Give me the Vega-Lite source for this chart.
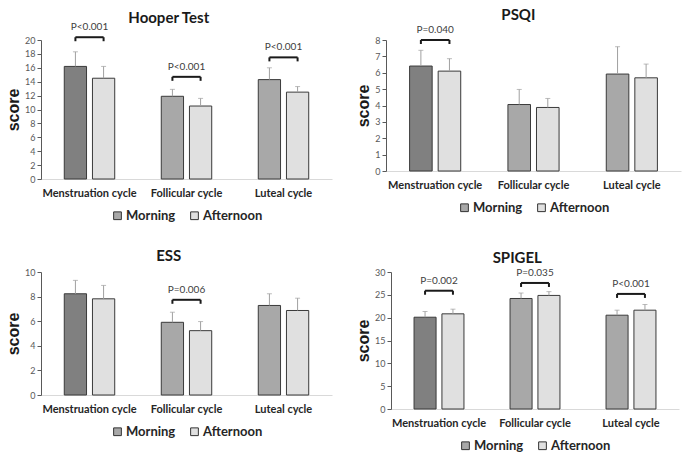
{
"$schema": "https://vega.github.io/schema/vega-lite/v6.json",
"padding": {"left": 5, "top": 8, "right": 5, "bottom": 5},
"datasets": {
 "bars": [
  {"panel":"Hooper Test","cycle":"Menstruation cycle","session":"Morning","mean":16.2,"upper":18.3},
  {"panel":"Hooper Test","cycle":"Menstruation cycle","session":"Afternoon","mean":14.5,"upper":16.2},
  {"panel":"Hooper Test","cycle":"Follicular cycle","session":"Morning","mean":11.9,"upper":12.9},
  {"panel":"Hooper Test","cycle":"Follicular cycle","session":"Afternoon","mean":10.5,"upper":11.6},
  {"panel":"Hooper Test","cycle":"Luteal cycle","session":"Morning","mean":14.3,"upper":16.0},
  {"panel":"Hooper Test","cycle":"Luteal cycle","session":"Afternoon","mean":12.5,"upper":13.3},
  {"panel":"PSQI","cycle":"Menstruation cycle","session":"Morning","mean":6.41,"upper":7.37},
  {"panel":"PSQI","cycle":"Menstruation cycle","session":"Afternoon","mean":6.10,"upper":6.86},
  {"panel":"PSQI","cycle":"Follicular cycle","session":"Morning","mean":4.06,"upper":4.98},
  {"panel":"PSQI","cycle":"Follicular cycle","session":"Afternoon","mean":3.88,"upper":4.43},
  {"panel":"PSQI","cycle":"Luteal cycle","session":"Morning","mean":5.92,"upper":7.59},
  {"panel":"PSQI","cycle":"Luteal cycle","session":"Afternoon","mean":5.69,"upper":6.53},
  {"panel":"ESS","cycle":"Menstruation cycle","session":"Morning","mean":8.23,"upper":9.32},
  {"panel":"ESS","cycle":"Menstruation cycle","session":"Afternoon","mean":7.82,"upper":8.91},
  {"panel":"ESS","cycle":"Follicular cycle","session":"Morning","mean":5.91,"upper":6.73},
  {"panel":"ESS","cycle":"Follicular cycle","session":"Afternoon","mean":5.23,"upper":5.97},
  {"panel":"ESS","cycle":"Luteal cycle","session":"Morning","mean":7.28,"upper":8.23},
  {"panel":"ESS","cycle":"Luteal cycle","session":"Afternoon","mean":6.87,"upper":7.87},
  {"panel":"SPIGEL","cycle":"Menstruation cycle","session":"Morning","mean":20.1,"upper":21.35},
  {"panel":"SPIGEL","cycle":"Menstruation cycle","session":"Afternoon","mean":20.84,"upper":21.86},
  {"panel":"SPIGEL","cycle":"Follicular cycle","session":"Morning","mean":24.2,"upper":25.4},
  {"panel":"SPIGEL","cycle":"Follicular cycle","session":"Afternoon","mean":24.87,"upper":25.7},
  {"panel":"SPIGEL","cycle":"Luteal cycle","session":"Morning","mean":20.54,"upper":21.64},
  {"panel":"SPIGEL","cycle":"Luteal cycle","session":"Afternoon","mean":21.64,"upper":22.9}
 ],
 "brackets": [
  {"panel":"Hooper Test","cycle":"Menstruation cycle","session":"Morning","by":20.4,"p":"P<0.001"},
  {"panel":"Hooper Test","cycle":"Menstruation cycle","session":"Afternoon","by":20.4,"p":"P<0.001"},
  {"panel":"Hooper Test","cycle":"Follicular cycle","session":"Morning","by":14.7,"p":"P<0.001"},
  {"panel":"Hooper Test","cycle":"Follicular cycle","session":"Afternoon","by":14.7,"p":"P<0.001"},
  {"panel":"Hooper Test","cycle":"Luteal cycle","session":"Morning","by":17.5,"p":"P<0.001"},
  {"panel":"Hooper Test","cycle":"Luteal cycle","session":"Afternoon","by":17.5,"p":"P<0.001"},
  {"panel":"PSQI","cycle":"Menstruation cycle","session":"Morning","by":8.0,"p":"P=0.040"},
  {"panel":"PSQI","cycle":"Menstruation cycle","session":"Afternoon","by":8.0,"p":"P=0.040"},
  {"panel":"ESS","cycle":"Follicular cycle","session":"Morning","by":7.74,"p":"P=0.006"},
  {"panel":"ESS","cycle":"Follicular cycle","session":"Afternoon","by":7.74,"p":"P=0.006"},
  {"panel":"SPIGEL","cycle":"Menstruation cycle","session":"Morning","by":25.9,"p":"P=0.002"},
  {"panel":"SPIGEL","cycle":"Menstruation cycle","session":"Afternoon","by":25.9,"p":"P=0.002"},
  {"panel":"SPIGEL","cycle":"Follicular cycle","session":"Morning","by":27.6,"p":"P=0.035"},
  {"panel":"SPIGEL","cycle":"Follicular cycle","session":"Afternoon","by":27.6,"p":"P=0.035"},
  {"panel":"SPIGEL","cycle":"Luteal cycle","session":"Morning","by":25.2,"p":"P<0.001"},
  {"panel":"SPIGEL","cycle":"Luteal cycle","session":"Afternoon","by":25.2,"p":"P<0.001"}
 ]
},
"vconcat": [
 {"hconcat": [
  {"width": 291, "height": 139, "title": {"text": "Hooper Test", "dy": 6},
   "data": {"name": "bars"}, "transform": [{"filter": "datum.panel === 'Hooper Test'"}],
   "encoding": {
    "x": {"field":"cycle","type":"nominal","sort":null,"scale":{"domain":["Menstruation cycle","Follicular cycle","Luteal cycle"],"paddingInner":0.48,"paddingOuter":0.24},"axis":{"title":null,"labelAngle":0}},
    "y": {"type":"quantitative","scale":{"domain":[0,20]},"axis":{"values":[0,2,4,6,8,10,12,14,16,18,20],"title":"score"}}
   },
   "layer": [
    {"mark": {"type":"bar","stroke":"#3a3a3a","strokeWidth":1},
     "encoding": {"xOffset":{"field":"session","type":"nominal","scale":{"domain":["Morning","Afternoon"],"paddingInner":0.21}},"y":{"field":"mean","type":"quantitative"},
      "fill":{"condition":{"test":"datum.cycle === 'Menstruation cycle' && datum.session === 'Morning'","value":"#808080"},"field":"session","type":"nominal","scale":{"domain":["Morning","Afternoon"],"range":["#a8a8a8","#e0e0e0"]},"legend":{"title":null,"orient":"bottom","direction":"horizontal"}}}},
    {"mark": {"type":"rule","color":"#a0a0a0","strokeWidth":1},
     "encoding": {"xOffset":{"field":"session","type":"nominal"},"y":{"field":"mean","type":"quantitative"},"y2":{"field":"upper"}}},
    {"mark": {"type":"tick","color":"#a0a0a0","thickness":1,"size":5},
     "encoding": {"xOffset":{"field":"session","type":"nominal"},"y":{"field":"upper","type":"quantitative"}}},
    {"data": {"name":"brackets"}, "transform": [{"filter": "datum.panel === 'Hooper Test'"}], "mark": {"type":"line","color":"#1a1a1a","strokeWidth":2},
     "encoding": {"xOffset":{"field":"session","type":"nominal"},"y":{"field":"by","type":"quantitative"},"detail":{"field":"cycle"}}},
    {"data": {"name":"brackets"}, "transform": [{"filter": "datum.panel === 'Hooper Test'"}], "mark": {"type":"rule","color":"#1a1a1a","strokeWidth":2,"y2Offset":4},
     "encoding": {"xOffset":{"field":"session","type":"nominal"},"y":{"field":"by","type":"quantitative"},"y2":{"field":"by"}}},
    {"data": {"name":"brackets"}, "transform": [{"filter": "datum.panel === 'Hooper Test' && datum.session === 'Morning'"}], "mark": {"type":"text","color":"#404040","fontSize":10,"baseline":"bottom","dy":-5},
     "encoding": {"y":{"field":"by","type":"quantitative"},"text":{"field":"p"}}}
   ]},
  {"width": 295, "height": 131, "title": "PSQI",
   "data": {"name": "bars"}, "transform": [{"filter": "datum.panel === 'PSQI'"}],
   "encoding": {
    "x": {"field":"cycle","type":"nominal","sort":null,"scale":{"domain":["Menstruation cycle","Follicular cycle","Luteal cycle"],"paddingInner":0.48,"paddingOuter":0.24},"axis":{"title":null,"labelAngle":0}},
    "y": {"type":"quantitative","scale":{"domain":[0,8]},"axis":{"values":[0,1,2,3,4,5,6,7,8],"title":"score"}}
   },
   "layer": [
    {"mark": {"type":"bar","stroke":"#3a3a3a","strokeWidth":1},
     "encoding": {"xOffset":{"field":"session","type":"nominal","scale":{"domain":["Morning","Afternoon"],"paddingInner":0.21}},"y":{"field":"mean","type":"quantitative"},
      "fill":{"condition":{"test":"datum.cycle === 'Menstruation cycle' && datum.session === 'Morning'","value":"#808080"},"field":"session","type":"nominal","scale":{"domain":["Morning","Afternoon"],"range":["#a8a8a8","#e0e0e0"]},"legend":{"title":null,"orient":"bottom","direction":"horizontal"}}}},
    {"mark": {"type":"rule","color":"#a0a0a0","strokeWidth":1},
     "encoding": {"xOffset":{"field":"session","type":"nominal"},"y":{"field":"mean","type":"quantitative"},"y2":{"field":"upper"}}},
    {"mark": {"type":"tick","color":"#a0a0a0","thickness":1,"size":5},
     "encoding": {"xOffset":{"field":"session","type":"nominal"},"y":{"field":"upper","type":"quantitative"}}},
    {"data": {"name":"brackets"}, "transform": [{"filter": "datum.panel === 'PSQI'"}], "mark": {"type":"line","color":"#1a1a1a","strokeWidth":2},
     "encoding": {"xOffset":{"field":"session","type":"nominal"},"y":{"field":"by","type":"quantitative"},"detail":{"field":"cycle"}}},
    {"data": {"name":"brackets"}, "transform": [{"filter": "datum.panel === 'PSQI'"}], "mark": {"type":"rule","color":"#1a1a1a","strokeWidth":2,"y2Offset":4},
     "encoding": {"xOffset":{"field":"session","type":"nominal"},"y":{"field":"by","type":"quantitative"},"y2":{"field":"by"}}},
    {"data": {"name":"brackets"}, "transform": [{"filter": "datum.panel === 'PSQI' && datum.session === 'Morning'"}], "mark": {"type":"text","color":"#404040","fontSize":10,"baseline":"bottom","dy":-5},
     "encoding": {"y":{"field":"by","type":"quantitative"},"text":{"field":"p"}}}
   ]}
 ], "spacing": 23, "resolve": {"scale": {"fill": "independent", "x": "independent", "y": "independent", "xOffset": "independent"}, "legend": {"fill": "independent"}}},
 {"hconcat": [
  {"width": 291, "height": 123, "title": {"text": "ESS", "offset": 7, "dy": 3},
   "data": {"name": "bars"}, "transform": [{"filter": "datum.panel === 'ESS'"}],
   "encoding": {
    "x": {"field":"cycle","type":"nominal","sort":null,"scale":{"domain":["Menstruation cycle","Follicular cycle","Luteal cycle"],"paddingInner":0.48,"paddingOuter":0.24},"axis":{"title":null,"labelAngle":0}},
    "y": {"type":"quantitative","scale":{"domain":[0,10]},"axis":{"values":[0,2,4,6,8,10],"title":"score"}}
   },
   "layer": [
    {"mark": {"type":"bar","stroke":"#3a3a3a","strokeWidth":1},
     "encoding": {"xOffset":{"field":"session","type":"nominal","scale":{"domain":["Morning","Afternoon"],"paddingInner":0.21}},"y":{"field":"mean","type":"quantitative"},
      "fill":{"condition":{"test":"datum.cycle === 'Menstruation cycle' && datum.session === 'Morning'","value":"#808080"},"field":"session","type":"nominal","scale":{"domain":["Morning","Afternoon"],"range":["#a8a8a8","#e0e0e0"]},"legend":{"title":null,"orient":"bottom","direction":"horizontal"}}}},
    {"mark": {"type":"rule","color":"#a0a0a0","strokeWidth":1},
     "encoding": {"xOffset":{"field":"session","type":"nominal"},"y":{"field":"mean","type":"quantitative"},"y2":{"field":"upper"}}},
    {"mark": {"type":"tick","color":"#a0a0a0","thickness":1,"size":5},
     "encoding": {"xOffset":{"field":"session","type":"nominal"},"y":{"field":"upper","type":"quantitative"}}},
    {"data": {"name":"brackets"}, "transform": [{"filter": "datum.panel === 'ESS'"}], "mark": {"type":"line","color":"#1a1a1a","strokeWidth":2},
     "encoding": {"xOffset":{"field":"session","type":"nominal"},"y":{"field":"by","type":"quantitative"},"detail":{"field":"cycle"}}},
    {"data": {"name":"brackets"}, "transform": [{"filter": "datum.panel === 'ESS'"}], "mark": {"type":"rule","color":"#1a1a1a","strokeWidth":2,"y2Offset":4},
     "encoding": {"xOffset":{"field":"session","type":"nominal"},"y":{"field":"by","type":"quantitative"},"y2":{"field":"by"}}},
    {"data": {"name":"brackets"}, "transform": [{"filter": "datum.panel === 'ESS' && datum.session === 'Morning'"}], "mark": {"type":"text","color":"#404040","fontSize":10,"baseline":"bottom","dy":-5},
     "encoding": {"y":{"field":"by","type":"quantitative"},"text":{"field":"p"}}}
   ]},
  {"width": 288, "height": 137, "title": "SPIGEL",
   "data": {"name": "bars"}, "transform": [{"filter": "datum.panel === 'SPIGEL'"}],
   "encoding": {
    "x": {"field":"cycle","type":"nominal","sort":null,"scale":{"domain":["Menstruation cycle","Follicular cycle","Luteal cycle"],"paddingInner":0.48,"paddingOuter":0.24},"axis":{"title":null,"labelAngle":0}},
    "y": {"type":"quantitative","scale":{"domain":[0,30]},"axis":{"values":[0,5,10,15,20,25,30],"title":"score"}}
   },
   "layer": [
    {"mark": {"type":"bar","stroke":"#3a3a3a","strokeWidth":1},
     "encoding": {"xOffset":{"field":"session","type":"nominal","scale":{"domain":["Morning","Afternoon"],"paddingInner":0.21}},"y":{"field":"mean","type":"quantitative"},
      "fill":{"condition":{"test":"datum.cycle === 'Menstruation cycle' && datum.session === 'Morning'","value":"#808080"},"field":"session","type":"nominal","scale":{"domain":["Morning","Afternoon"],"range":["#a8a8a8","#e0e0e0"]},"legend":{"title":null,"orient":"bottom","direction":"horizontal"}}}},
    {"mark": {"type":"rule","color":"#a0a0a0","strokeWidth":1},
     "encoding": {"xOffset":{"field":"session","type":"nominal"},"y":{"field":"mean","type":"quantitative"},"y2":{"field":"upper"}}},
    {"mark": {"type":"tick","color":"#a0a0a0","thickness":1,"size":5},
     "encoding": {"xOffset":{"field":"session","type":"nominal"},"y":{"field":"upper","type":"quantitative"}}},
    {"data": {"name":"brackets"}, "transform": [{"filter": "datum.panel === 'SPIGEL'"}], "mark": {"type":"line","color":"#1a1a1a","strokeWidth":2},
     "encoding": {"xOffset":{"field":"session","type":"nominal"},"y":{"field":"by","type":"quantitative"},"detail":{"field":"cycle"}}},
    {"data": {"name":"brackets"}, "transform": [{"filter": "datum.panel === 'SPIGEL'"}], "mark": {"type":"rule","color":"#1a1a1a","strokeWidth":2,"y2Offset":4},
     "encoding": {"xOffset":{"field":"session","type":"nominal"},"y":{"field":"by","type":"quantitative"},"y2":{"field":"by"}}},
    {"data": {"name":"brackets"}, "transform": [{"filter": "datum.panel === 'SPIGEL' && datum.session === 'Morning'"}], "mark": {"type":"text","color":"#404040","fontSize":10,"baseline":"bottom","dy":-5},
     "encoding": {"y":{"field":"by","type":"quantitative"},"text":{"field":"p"}}}
   ]}
 ], "spacing": 23, "resolve": {"scale": {"fill": "independent", "x": "independent", "y": "independent", "xOffset": "independent"}, "legend": {"fill": "independent"}}}
],
"spacing": 24,
"resolve": {"scale": {"fill": "independent", "x": "independent", "y": "independent", "xOffset": "independent"}, "legend": {"fill": "independent"}},
"config": {
 "font": "Lato",
 "view": {"stroke": null},
 "title": {"fontSize": 15, "fontWeight": "bold", "color": "#1a1a1a", "frame": "bounds", "anchor": "middle", "offset": 2},
 "axisX": {"domainColor": "#d9d9d9", "ticks": false, "labelFontWeight": "bold", "labelFontSize": 11, "labelColor": "#262626", "labelPadding": 8, "grid": false},
 "axisY": {"domainColor": "#595959", "tickColor": "#595959", "tickSize": 4, "labelFontSize": 9, "labelColor": "#595959", "titleFontSize": 16, "titleFontWeight": "bold", "titleColor": "#1a1a1a", "titleFont": "Liberation Sans", "grid": false, "titlePadding": 3},
 "legend": {"symbolType": "square", "symbolSize": 60, "symbolStrokeColor": "#333333", "symbolStrokeWidth": 1, "labelFontSize": 13, "labelFontWeight": "bold", "labelColor": "#262626", "columnPadding": 12, "symbolOffset": 0, "labelOffset": 2, "padding": 2, "offset": 9, "layout": {"bottom": {"anchor": "middle"}}}
}
}
